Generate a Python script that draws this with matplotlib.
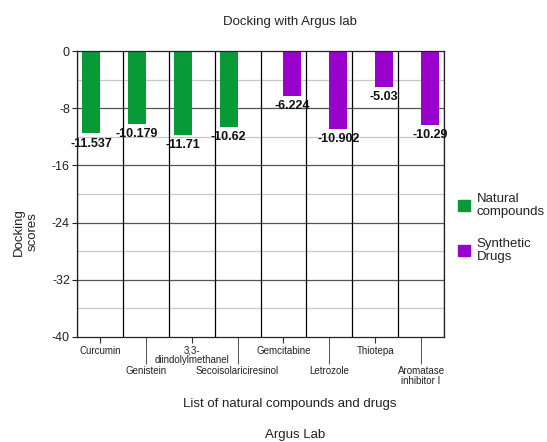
import numpy as np
import matplotlib.pyplot as plt
from matplotlib.patches import Patch

plt.rcParams['font.family'] = ['Liberation Sans', 'DejaVu Sans']
plt.rcParams['axes.unicode_minus'] = False

compounds = ['Curcumin', 'Genistein', '3,3-\ndiindolylmethanel', 'Secoisolariciresinol',
             'Gemcitabine', 'Letrozole', 'Thiotepa', 'Aromatase\ninhibitor I']
natural = [-11.537, -10.179, -11.71, -10.62, np.nan, np.nan, np.nan, np.nan]
synthetic = [np.nan, np.nan, np.nan, np.nan, -6.224, -10.902, -5.03, -10.29]
series_names = ['Natural\ncompounds', 'Synthetic\nDrugs']
green = '#079a36'
purple = '#9900cc'

fig = plt.figure(figsize=(5.47, 4.42), dpi=100)
ax = fig.add_axes([0.1408, 0.2376, 0.671, 0.647])

x = np.arange(len(compounds))
w = 0.39
# natural bars end at the category centre, synthetic bars start there
ax.bar(x, natural, width=-w, align='edge', color=green, zorder=2)
ax.bar(x, synthetic, width=w, align='edge', color=purple, zorder=2)

for i in range(len(compounds)):
    for vals, off in ((natural, -w / 2), (synthetic, w / 2)):
        v = vals[i]
        if np.isnan(v):
            continue
        ax.annotate(f'{v:g}', (x[i] + off, v), xytext=(0, -3),
                    textcoords='offset points', ha='center', va='top',
                    fontsize=9, fontweight='bold', color='#111111', zorder=3)

ax.set_xlim(-0.5, len(compounds) - 0.5)
ax.set_ylim(-40, 0)

# grid
for yv in np.arange(-36, 0, 4):
    col = '#555555' if yv % 8 == 0 else '#c8c8c8'
    ax.axhline(yv, color=col, lw=0.9, zorder=0)
ax.vlines(np.arange(len(compounds) + 1) - 0.5, -40, 0, colors='black', lw=0.9, zorder=1)

for s in ax.spines.values():
    s.set_color('#222222')
    s.set_linewidth(0.9)

ax.set_yticks(np.arange(-40, 1, 8))
ax.tick_params(axis='y', length=3.6, labelsize=9, colors='#222222', pad=1.5)

# staggered x labels: short ticks for even, long ticks for odd positions
ax.set_xticks(x[0::2])
ax.set_xticklabels(compounds[0::2])
ax.set_xticks(x[1::2], minor=True)
ax.set_xticklabels(compounds[1::2], minor=True)
ax.tick_params(axis='x', which='major', length=4.3, labelsize=7, colors='#333333', pad=2)
ax.tick_params(axis='x', which='minor', length=19.5, labelsize=7, colors='#333333', pad=1.5)
for lab in ax.get_xticklabels() + ax.get_xticklabels(minor=True):
    lab.set_linespacing(0.95)
    lab.set_color('#222222')

fig.text(290 / 547, 1 - 21.7 / 442, 'Docking with Argus lab', ha='center', va='center',
         fontsize=9.5, color='#222222')
fig.text(290 / 547, 1 - 404 / 442, 'List of natural compounds and drugs', ha='center', va='center',
         fontsize=9.5, color='#222222')
fig.text(295 / 547, 1 - 435 / 442, 'Argus Lab', ha='center', va='center',
         fontsize=9.5, color='#222222')
fig.text(26 / 547, 1 - 232 / 442, 'Docking\nscores', ha='center', va='center', rotation=90,
         fontsize=9.5, color='#222222', linespacing=1.15)

handles = [Patch(color=green), Patch(color=purple)]
leg = fig.legend(handles, series_names, loc='center left', bbox_to_anchor=(453 / 547, 1 - 228 / 442),
                 frameon=False, fontsize=9.5, handlelength=0.9, handleheight=0.9,
                 labelspacing=1.5, handletextpad=0.5, borderaxespad=0)
for t in leg.get_texts():
    t.set_linespacing(1.15)
    t.set_color('#222222')

fig.savefig('out.png', dpi=100)
